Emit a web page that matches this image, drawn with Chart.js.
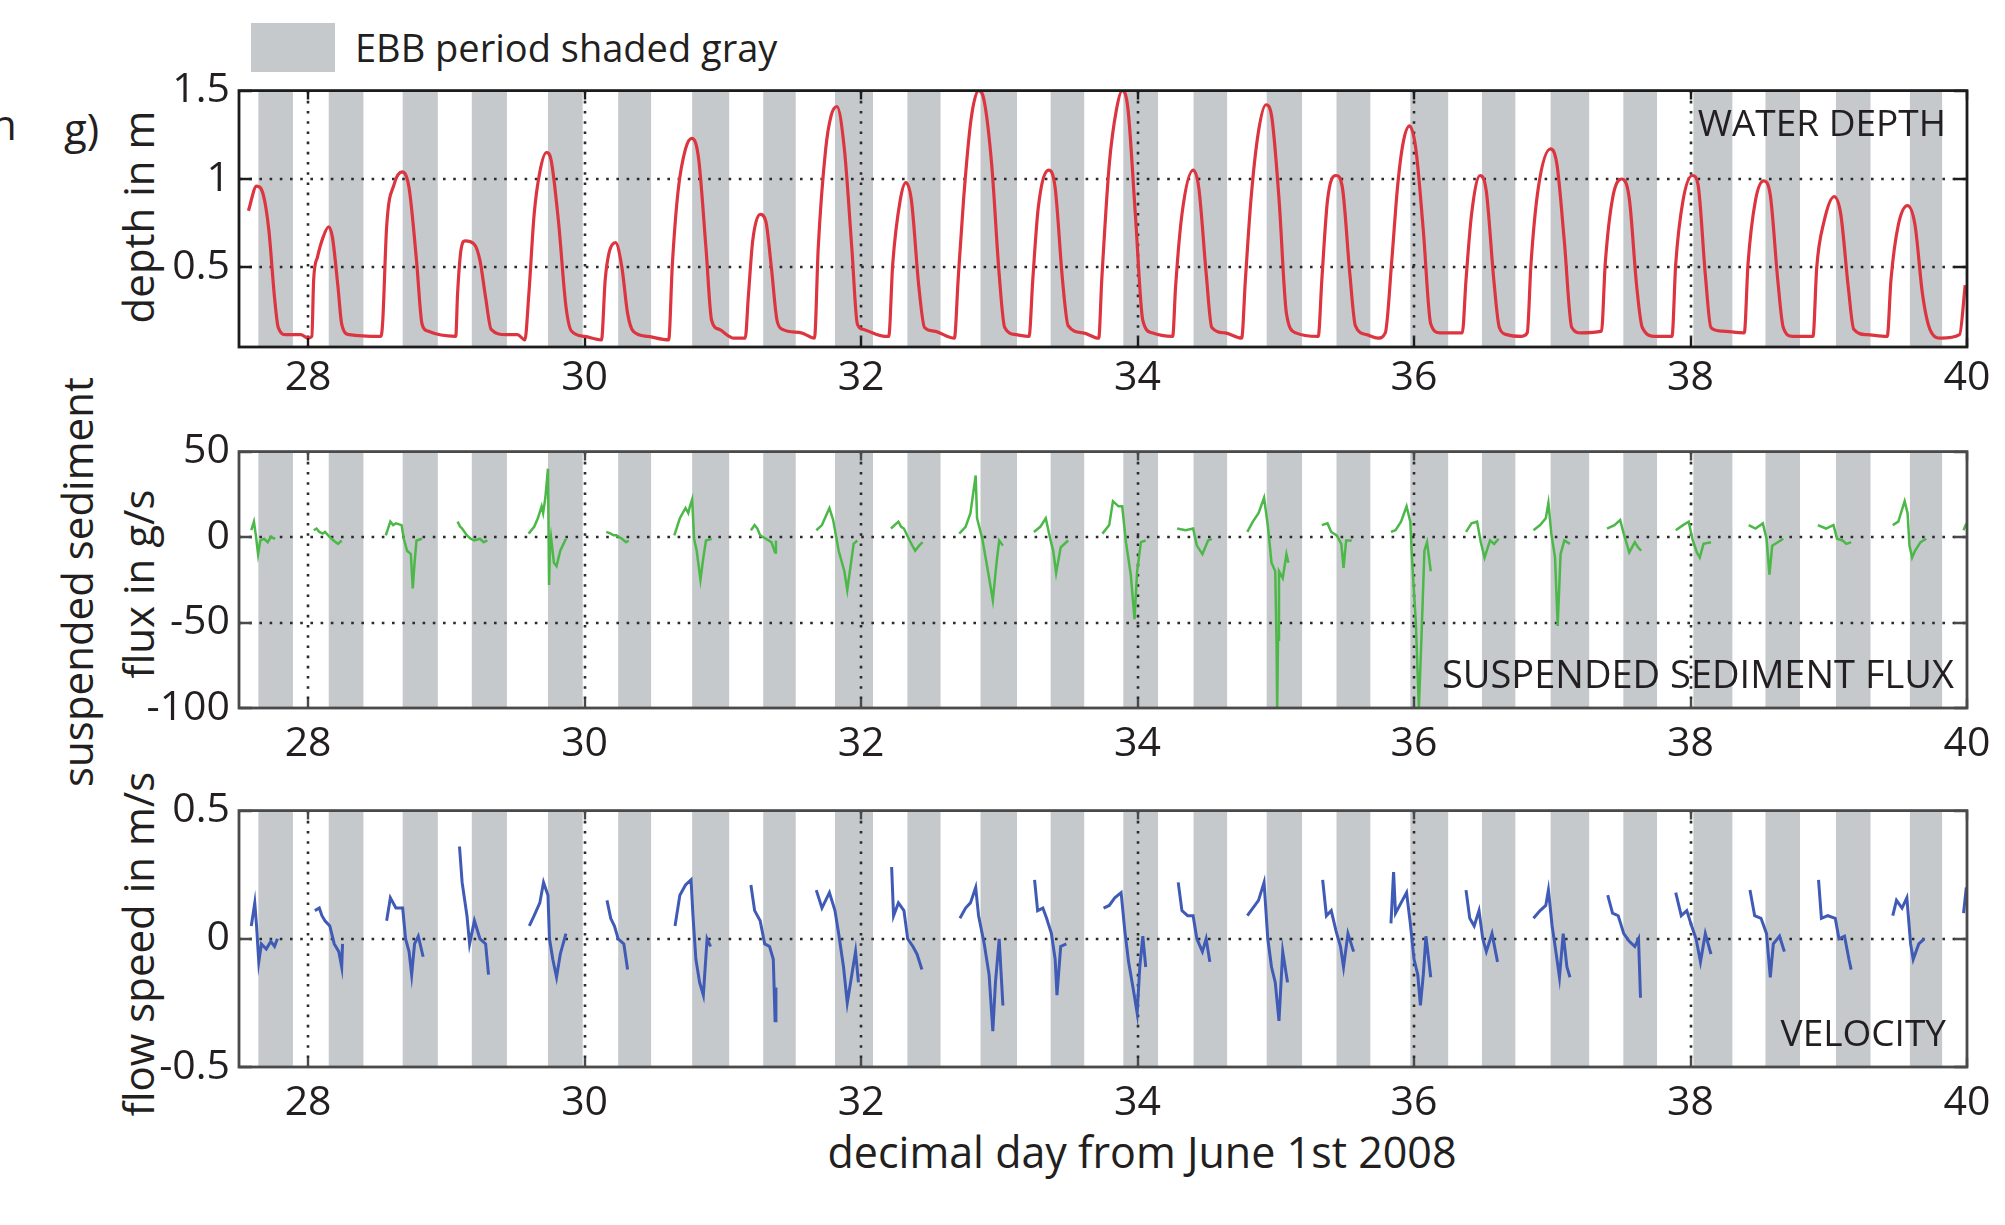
<!DOCTYPE html>
<html>
<head>
<meta charset="utf-8">
<script src="https://cdn.jsdelivr.net/npm/chart.js@4.4.1/dist/chart.umd.min.js"></script>
<style>
  html, body { margin: 0; padding: 0; background: #fff; }
  body { position: relative; width: 2005px; height: 1225px; overflow: hidden; font-family: 'Open Sans', sans-serif; color: #231f20; }
  canvas { position: absolute; left: 0; }
  .lbl { position: absolute; white-space: nowrap; line-height: 1; }
  .ctr { transform: translate(-50%, -50%); }
  .mid { transform: translateY(-50%); }
  .rgt { transform: translate(-100%, -50%); }
  .rot { transform: translate(-50%, -50%) rotate(-90deg); }
</style>
</head>
<body>
<div style="position:absolute;left:251px;top:23px;width:84px;height:49px;background:#c5c9cc"></div>
<div class="lbl mid" style="left:355px;top:47px;font-size:38px">EBB period shaded gray</div>
<div class="lbl mid" style="left:-9px;top:124px;font-size:42px">n</div>
<div class="lbl mid" style="left:64px;top:128px;font-size:42px">g)</div>
<div class="lbl rot" style="left:138px;top:217px;font-size:42px">depth in m</div>
<div class="lbl rot" style="left:77px;top:582px;font-size:42px">suspended sediment</div>
<div class="lbl rot" style="left:138px;top:584px;font-size:42px">flux in g/s</div>
<div class="lbl rot" style="left:138px;top:944px;font-size:42px">flow speed in m/s</div>
<div class="lbl ctr" style="left:1142px;top:1151px;font-size:43px">decimal day from June 1st 2008</div>

<canvas id="cDepth" width="2005" height="360" style="top:57px"></canvas>
<canvas id="cFlux" width="2005" height="360" style="top:418px"></canvas>
<canvas id="cVel" width="2005" height="360" style="top:777px"></canvas>

<div class="lbl rgt" style="left:1946px;top:121px;font-size:37px">WATER DEPTH</div>
<div class="lbl rgt" style="left:1954px;top:673px;font-size:38px">SUSPENDED SEDIMENT FLUX</div>
<div class="lbl rgt" style="left:1946px;top:1031px;font-size:37px">VELOCITY</div>

<script>
// ebb periods (decimal day), shaded gray
const ebbStart = [27.64, 28.149, 28.684, 29.184, 29.735, 30.243, 30.778, 31.292, 31.811, 32.335, 32.864, 33.371,
    33.897, 34.405, 34.934, 35.439, 35.973, 36.491, 36.988, 37.514, 38.021, 38.542, 39.052, 39.587];
const ebbEnd = [27.89, 28.40, 28.938, 29.438, 29.986, 30.481, 31.046, 31.527, 32.086, 32.575, 33.128, 33.614,
    34.148, 34.648, 35.190, 35.684, 36.247, 36.733, 37.267, 37.758, 38.303, 38.792, 39.302, 39.820];

const xTicks = [28, 30, 32, 34, 36, 38, 40];
const depthTicks = [0.5, 1, 1.5];
const fluxTicks = [-100, -50, 0, 50];
const velTicks = [-0.5, 0, 0.5];

// water depth (m)
const depthDay = [
    27.568, 27.627, 27.676, 27.716, 27.757, 27.784, 27.838, 27.946, 28.000, 28.027,
    28.040, 28.068, 28.108, 28.149, 28.176, 28.216, 28.243, 28.297, 28.527, 28.540,
    28.568, 28.622, 28.681, 28.730, 28.784, 28.824, 28.865, 29.068, 29.081, 29.108,
    29.135, 29.203, 29.243, 29.284, 29.324, 29.432, 29.514, 29.568, 29.595, 29.635,
    29.676, 29.724, 29.757, 29.811, 29.865, 29.905, 30.000, 30.122, 30.149, 30.176,
    30.224, 30.270, 30.311, 30.351, 30.459, 30.608, 30.635, 30.676, 30.730, 30.776,
    30.824, 30.878, 30.919, 30.973, 31.081, 31.162, 31.184, 31.216, 31.270, 31.311,
    31.351, 31.392, 31.432, 31.568, 31.663, 31.690, 31.744, 31.784, 31.825, 31.879,
    31.933, 31.973, 32.013, 32.175, 32.200, 32.229, 32.283, 32.324, 32.364, 32.418,
    32.459, 32.526, 32.675, 32.702, 32.742, 32.796, 32.850, 32.891, 32.945, 32.999,
    33.039, 33.120, 33.215, 33.242, 33.282, 33.358, 33.404, 33.457, 33.498, 33.606,
    33.719, 33.741, 33.795, 33.849, 33.889, 33.930, 33.984, 34.038, 34.105, 34.254,
    34.275, 34.321, 34.402, 34.443, 34.497, 34.537, 34.632, 34.753, 34.780, 34.821,
    34.875, 34.929, 34.969, 35.023, 35.077, 35.145, 35.307, 35.333, 35.374, 35.436,
    35.482, 35.536, 35.576, 35.657, 35.738, 35.792, 35.840, 35.880, 35.920, 35.968,
    36.013, 36.067, 36.121, 36.188, 36.349, 36.376, 36.416, 36.478, 36.523, 36.577,
    36.617, 36.671, 36.779, 36.819, 36.846, 36.899, 36.988, 37.034, 37.087, 37.141,
    37.208, 37.356, 37.383, 37.436, 37.503, 37.557, 37.611, 37.651, 37.745, 37.866,
    37.893, 37.946, 38.013, 38.054, 38.107, 38.148, 38.228, 38.389, 38.416, 38.470,
    38.529, 38.577, 38.631, 38.671, 38.738, 38.886, 38.913, 38.966, 39.039, 39.087,
    39.141, 39.181, 39.275, 39.423, 39.450, 39.503, 39.570, 39.624, 39.678, 39.732,
    39.812, 39.946, 39.987
];
const depthM = [
    0.82, 0.96, 0.91, 0.71, 0.33, 0.16, 0.12, 0.12, 0.10, 0.11,
    0.43, 0.56, 0.67, 0.73, 0.67, 0.39, 0.18, 0.12, 0.11, 0.20,
    0.73, 0.97, 1.04, 0.95, 0.54, 0.18, 0.14, 0.11, 0.35, 0.61,
    0.65, 0.63, 0.54, 0.33, 0.15, 0.12, 0.12, 0.09, 0.33, 0.80,
    1.04, 1.15, 1.11, 0.76, 0.28, 0.14, 0.11, 0.09, 0.43, 0.58,
    0.64, 0.50, 0.24, 0.14, 0.11, 0.09, 0.52, 0.93, 1.17, 1.23,
    1.12, 0.61, 0.20, 0.15, 0.10, 0.10, 0.33, 0.65, 0.80, 0.76,
    0.50, 0.20, 0.15, 0.13, 0.10, 0.61, 1.17, 1.36, 1.41, 1.17,
    0.61, 0.18, 0.15, 0.11, 0.11, 0.52, 0.88, 0.98, 0.88, 0.39,
    0.16, 0.14, 0.10, 0.43, 0.89, 1.34, 1.50, 1.44, 1.08, 0.46,
    0.16, 0.12, 0.11, 0.43, 0.84, 1.05, 0.95, 0.43, 0.17, 0.13,
    0.10, 0.43, 1.08, 1.40, 1.50, 1.40, 0.80, 0.20, 0.13, 0.11,
    0.39, 0.80, 1.05, 0.95, 0.46, 0.16, 0.13, 0.10, 0.43, 0.89,
    1.27, 1.42, 1.36, 0.89, 0.24, 0.13, 0.11, 0.43, 0.88, 1.02,
    0.95, 0.46, 0.17, 0.12, 0.10, 0.13, 0.55, 0.95, 1.20, 1.30,
    1.17, 0.71, 0.18, 0.13, 0.13, 0.43, 0.80, 1.02, 0.93, 0.43,
    0.16, 0.12, 0.11, 0.13, 0.52, 0.95, 1.17, 1.08, 0.65, 0.16,
    0.13, 0.14, 0.52, 0.89, 1.00, 0.89, 0.39, 0.16, 0.11, 0.11,
    0.52, 0.88, 1.02, 0.97, 0.46, 0.16, 0.14, 0.13, 0.52, 0.88,
    0.99, 0.91, 0.43, 0.16, 0.11, 0.11, 0.50, 0.76, 0.90, 0.80,
    0.39, 0.15, 0.12, 0.11, 0.43, 0.74, 0.85, 0.74, 0.35, 0.15,
    0.10, 0.12, 0.40
];

// suspended sediment flux (g/s), null = no data (flat dry)
const fluxDay = [
    27.589, 27.608, 27.622, 27.638, 27.654, 27.681, 27.708, 27.730, 27.762, null,
    28.041, 28.061, 28.081, 28.105, 28.122, 28.157, 28.184, 28.216, 28.243, null,
    28.562, 28.595, 28.615, 28.635, 28.676, 28.692, 28.716, 28.743, 28.757, 28.770, 28.784, 28.824, null,
    29.081, 29.100, 29.114, 29.149, 29.176, 29.203, 29.243, 29.270, 29.297, null,
    29.595, 29.635, 29.662, 29.689, 29.700, 29.716, 29.735, 29.743, 29.750, 29.757, 29.778, 29.797, 29.824, 29.865, null,
    30.157, 30.189, 30.210, 30.230, 30.270, 30.300, 30.319, null,
    30.649, 30.689, 30.730, 30.750, 30.762, 30.778, 30.792, 30.811, 30.838, 30.859, 30.878, 30.919, null,
    31.203, 31.230, 31.250, 31.270, 31.311, 31.351, 31.378, 31.384, null,
    31.676, 31.717, 31.771, 31.798, 31.838, 31.879, 31.900, 31.919, 31.946, 31.973, null,
    32.216, 32.270, 32.290, 32.310, 32.351, 32.391, 32.420, 32.445, null,
    32.710, 32.756, 32.791, 32.829, 32.839, 32.877, 32.918, 32.953, 32.980, 32.999, 33.026, null,
    33.250, 33.296, 33.336, 33.368, 33.390, 33.411, 33.444, 33.498, null,
    33.746, 33.795, 33.822, 33.862, 33.889, 33.916, 33.951, 33.978, 33.997, 34.024, 34.059, null,
    34.286, 34.348, 34.402, 34.429, 34.469, 34.510, 34.537, null,
    34.794, 34.834, 34.875, 34.915, 34.942, 34.969, 34.996, 35.005, 35.010, 35.016, 35.023, 35.050, 35.077, 35.091, null,
    35.333, 35.374, 35.401, 35.441, 35.474, 35.490, 35.509, 35.549, null,
    35.833, 35.866, 35.906, 35.946, 35.973, 35.987, 36.013, 36.035, 36.054, 36.075, 36.094, 36.105, 36.121, null,
    36.376, 36.416, 36.456, 36.483, 36.510, 36.550, 36.580, 36.612, null,
    36.864, 36.912, 36.953, 36.972, 36.993, 37.020, 37.039, 37.060, 37.087, 37.128, null,
    37.396, 37.450, 37.491, 37.517, 37.557, 37.597, 37.620, 37.643, null,
    37.893, 37.946, 37.987, 38.013, 38.046, 38.067, 38.094, 38.148, null,
    38.421, 38.470, 38.523, 38.550, 38.571, 38.591, 38.631, 38.671, null,
    38.921, 38.980, 39.034, 39.060, 39.100, 39.128, 39.162, null,
    39.463, 39.503, 39.549, 39.570, 39.584, 39.603, 39.624, 39.664, 39.705, null,
    39.975, 39.995
];
const fluxGs = [
    4, 9, 1, -10, -2, -1, -3, 0, -1, null,
    4, 5, 3, 2, 3, 0, -2, -4, -2, null,
    1, 9, 7, 8, 7, -1, -8, -10, -30, -15, -2, -1, null,
    9, 6, 5, 1, -1, -2, -1, -3, -2, null,
    2, 6, 11, 18, 14, 23, 40, -28, -5, 0, -15, -17, -8, -1, null,
    3, 2, 1, 1, -1, -3, -2, null,
    1, 11, 17, 14, 18, 22, -1, -8, -25, -12, -2, -1, null,
    4, 7, 5, 1, -1, -3, -9, -2, null,
    4, 7, 17, 10, -8, -20, -31, -20, -4, -2, null,
    5, 9, 6, 5, -2, -8, -5, -3, null,
    2, 6, 14, 36, 11, -1, -20, -37, -15, -2, -5, null,
    3, 6, 11, -1, -8, -21, -6, -2, null,
    2, 7, 21, 18, 18, -3, -22, -48, -20, -3, -2, null,
    5, 4, 5, -5, -10, -2, -1, null,
    3, 9, 14, 23, 7, -15, -20, -60, -100, -60, -20, -24, -10, -15, null,
    7, 8, 3, 1, -4, -18, -2, -2, null,
    3, 4, 9, 18, 9, -15, -50, -100, -58, -8, -3, -10, -20, null,
    3, 8, 9, -3, -12, -2, -4, -1, null,
    4, 7, 11, 20, 2, -12, -52, -10, -2, -4, null,
    5, 7, 10, 2, -9, -3, -6, -8, null,
    4, 7, 9, -1, -9, -12, -4, -3, null,
    7, 5, 8, -1, -22, -5, -3, -1, null,
    7, 5, 7, -1, -2, -4, -3, null,
    7, 9, 21, 14, -5, -12, -8, -3, -1, null,
    4, 8
];

// flow speed (m/s)
const velDay = [
    27.589, 27.614, 27.627, 27.643, 27.662, 27.697, 27.730, 27.757, 27.778, null,
    28.049, 28.081, 28.100, 28.122, 28.157, 28.189, 28.222, 28.243, 28.249, null,
    28.568, 28.595, 28.635, 28.684, 28.705, 28.730, 28.749, 28.770, 28.797, 28.832, null,
    29.095, 29.114, 29.149, 29.168, 29.203, 29.243, 29.284, 29.305, null,
    29.600, 29.635, 29.676, 29.703, 29.735, 29.746, 29.770, 29.797, 29.824, 29.865, null,
    30.162, 30.189, 30.216, 30.243, 30.284, 30.311, null,
    30.654, 30.689, 30.730, 30.770, 30.784, 30.805, 30.832, 30.859, 30.886, 30.911, null,
    31.203, 31.230, 31.270, 31.303, 31.338, 31.365, 31.378, 31.384, null,
    31.676, 31.717, 31.771, 31.811, 31.838, 31.873, 31.900, 31.933, 31.960, 31.981, null,
    32.221, 32.235, 32.270, 32.310, 32.337, 32.375, 32.405, 32.440, null,
    32.715, 32.756, 32.791, 32.829, 32.850, 32.891, 32.926, 32.953, 32.972, 32.999, 33.026, null,
    33.255, 33.277, 33.315, 33.342, 33.377, 33.404, 33.417, 33.444, 33.485, null,
    33.754, 33.795, 33.835, 33.881, 33.908, 33.935, 33.970, 33.997, 34.016, 34.038, 34.059, null,
    34.294, 34.321, 34.362, 34.402, 34.429, 34.469, 34.496, 34.523, null,
    34.794, 34.834, 34.875, 34.915, 34.942, 34.969, 34.996, 35.023, 35.050, 35.085, null,
    35.339, 35.366, 35.401, 35.436, 35.468, 35.490, 35.522, 35.563, null,
    35.833, 35.852, 35.866, 35.906, 35.946, 35.973, 36.000, 36.027, 36.046, 36.067, 36.086, 36.121, null,
    36.376, 36.403, 36.435, 36.470, 36.497, 36.523, 36.564, 36.604, null,
    36.864, 36.912, 36.953, 36.972, 36.999, 37.026, 37.052, 37.079, 37.106, 37.128, null,
    37.401, 37.436, 37.477, 37.517, 37.557, 37.597, 37.624, 37.638, null,
    37.893, 37.933, 37.973, 38.008, 38.040, 38.072, 38.107, 38.148, null,
    38.430, 38.464, 38.510, 38.550, 38.577, 38.599, 38.644, 38.679, null,
    38.926, 38.947, 38.993, 39.047, 39.074, 39.114, 39.146, 39.162, null,
    39.463, 39.490, 39.530, 39.565, 39.592, 39.611, 39.651, 39.691, null,
    39.975, 39.995
];
const velMs = [
    0.05, 0.14, 0.05, -0.09, -0.02, -0.04, -0.01, -0.03, 0, null,
    0.11, 0.12, 0.09, 0.07, 0.05, -0.02, -0.05, -0.11, -0.02, null,
    0.07, 0.16, 0.12, 0.12, 0, -0.05, -0.14, -0.02, 0.01, -0.07, null,
    0.36, 0.22, 0.09, -0.02, 0.07, 0, -0.02, -0.14, null,
    0.05, 0.09, 0.14, 0.22, 0.17, 0, -0.08, -0.15, -0.06, 0.02, null,
    0.15, 0.08, 0.05, 0, -0.02, -0.12, null,
    0.05, 0.17, 0.21, 0.23, 0.09, -0.08, -0.17, -0.22, 0, -0.03, null,
    0.21, 0.11, 0.07, -0.02, -0.03, -0.08, -0.32, -0.19, null,
    0.19, 0.12, 0.18, 0.11, 0.02, -0.11, -0.25, -0.14, -0.05, -0.17, null,
    0.28, 0.09, 0.14, 0.11, 0, -0.03, -0.06, -0.12, null,
    0.08, 0.12, 0.14, 0.20, 0.09, -0.02, -0.14, -0.36, -0.17, 0, -0.26, null,
    0.23, 0.11, 0.12, 0.08, 0.02, -0.08, -0.22, -0.03, -0.02, null,
    0.12, 0.13, 0.16, 0.18, 0.03, -0.09, -0.20, -0.29, -0.11, 0.01, -0.11, null,
    0.22, 0.11, 0.09, 0.09, 0, -0.05, 0, -0.09, null,
    0.09, 0.12, 0.15, 0.22, 0, -0.11, -0.17, -0.32, -0.05, -0.17, null,
    0.23, 0.09, 0.11, 0.03, -0.03, -0.11, 0.02, -0.05, null,
    0.06, 0.26, 0.10, 0.14, 0.18, 0.06, -0.08, -0.14, -0.26, -0.14, 0.01, -0.15, null,
    0.19, 0.08, 0.05, 0.11, 0, -0.05, 0.02, -0.09, null,
    0.08, 0.11, 0.13, 0.19, 0.05, -0.05, -0.15, 0.02, -0.11, -0.15, null,
    0.17, 0.10, 0.09, 0.02, -0.01, -0.03, 0, -0.23, null,
    0.18, 0.09, 0.11, 0.05, 0, -0.09, 0.02, -0.06, null,
    0.19, 0.09, 0.08, 0.02, -0.15, -0.02, 0.01, -0.05, null,
    0.23, 0.08, 0.09, 0.08, 0, 0.01, -0.08, -0.12, null,
    0.09, 0.15, 0.12, 0.16, -0.02, -0.08, -0.02, 0, null,
    0.10, 0.20
];

const ink = '#231f20';
const ebbGray = '#c5c9cc';

Chart.defaults.font.family = "'Open Sans', sans-serif";
Chart.defaults.color = ink;

function toPoints(days, vals) {
    return days.map((d, i) => ({ x: d === null ? days[i - 1] : d, y: vals[i] }));
}

// ebb shading, dotted grid, boxed frame with inward ticks (matlab look)
const panelDeco = {
    id: 'panelDeco',
    beforeDatasetsDraw(chart) {
        const { ctx, chartArea: a, scales: { x, y } } = chart;
        ctx.save();
        ctx.fillStyle = ebbGray;
        ebbStart.forEach((s, i) => {
            const x0 = Math.max(a.left, x.getPixelForValue(s));
            const x1 = Math.min(a.right, x.getPixelForValue(ebbEnd[i]));
            if (x1 > x0) ctx.fillRect(x0, a.top, x1 - x0, a.bottom - a.top);
        });
        ctx.strokeStyle = '#2b2b2b';
        ctx.lineWidth = 2.6;
        ctx.setLineDash([2.6, 7.6]);
        ctx.beginPath();
        x.ticks.forEach(t => {
            if (t.value <= x.min || t.value >= x.max) return;
            const px = Math.round(x.getPixelForValue(t.value));
            ctx.moveTo(px, a.top);
            ctx.lineTo(px, a.bottom);
        });
        y.ticks.forEach(t => {
            if (t.value <= y.min || t.value >= y.max) return;
            const py = Math.round(y.getPixelForValue(t.value));
            ctx.moveTo(a.left, py);
            ctx.lineTo(a.right, py);
        });
        ctx.stroke();
        ctx.restore();
    },
    afterDatasetsDraw(chart, args, opts) {
        const { ctx, chartArea: a, scales: { x, y } } = chart;
        ctx.save();
        ctx.strokeStyle = opts.frame;
        ctx.lineWidth = 2.8;
        ctx.strokeRect(a.left, a.top, a.right - a.left, a.bottom - a.top);
        ctx.lineWidth = 2.4;
        ctx.beginPath();
        x.ticks.forEach(t => {
            const px = Math.round(x.getPixelForValue(t.value));
            ctx.moveTo(px, a.bottom); ctx.lineTo(px, a.bottom - 9);
            ctx.moveTo(px, a.top); ctx.lineTo(px, a.top + 9);
        });
        y.ticks.forEach(t => {
            const py = Math.round(y.getPixelForValue(t.value));
            ctx.moveTo(a.left, py); ctx.lineTo(a.left + 13, py);
            ctx.moveTo(a.right, py); ctx.lineTo(a.right - 13, py);
        });
        ctx.stroke();
        ctx.restore();
    }
};

function makePanel(id, points, yMin, yMax, yTicks, color, lineWidth, frame, smooth, xPad) {
    return new Chart(document.getElementById(id), {
        type: 'line',
        data: {
            datasets: [{
                data: points,
                borderColor: color,
                borderWidth: lineWidth,
                pointRadius: 0,
                fill: false,
                spanGaps: false,
                cubicInterpolationMode: smooth ? 'monotone' : 'default',
                tension: 0
            }]
        },
        options: {
            responsive: false,
            animation: false,
            events: [],
            layout: { padding: { top: 30, right: 38, left: 0, bottom: 0 } },
            plugins: {
                legend: { display: false },
                tooltip: { enabled: false },
                panelDeco: { frame }
            },
            scales: {
                x: {
                    type: 'linear',
                    min: 27.5,
                    max: 40,
                    afterBuildTicks: s => { s.ticks = xTicks.map(v => ({ value: v })); },
                    afterFit: s => { s.height = 70; },
                    grid: { display: false, drawTicks: false },
                    border: { display: false },
                    ticks: { padding: xPad, maxRotation: 0, autoSkip: false, color: ink, font: { size: 41 }, callback: v => String(v) }
                },
                y: {
                    type: 'linear',
                    min: yMin,
                    max: yMax,
                    afterBuildTicks: s => { s.ticks = yTicks.map(v => ({ value: v })); },
                    afterFit: s => { s.width = 239; },
                    grid: { display: false, drawTicks: false },
                    border: { display: false },
                    ticks: { padding: 9, autoSkip: false, color: ink, font: { size: 41 }, callback: v => String(v) }
                }
            }
        },
        plugins: [panelDeco]
    });
}

makePanel('cDepth', toPoints(depthDay, depthM), 0.05, 1.5, depthTicks, '#dc3540', 3.2, '#1c1c1c', true, 7);
makePanel('cFlux', toPoints(fluxDay, fluxGs), -100, 50, fluxTicks, '#4cb848', 2.5, '#4a4a4a', false, 12);
makePanel('cVel', toPoints(velDay, velMs), -0.5, 0.5, velTicks, '#3f5bb5', 3, '#4a4a4a', false, 12);
</script>
</body>
</html>
